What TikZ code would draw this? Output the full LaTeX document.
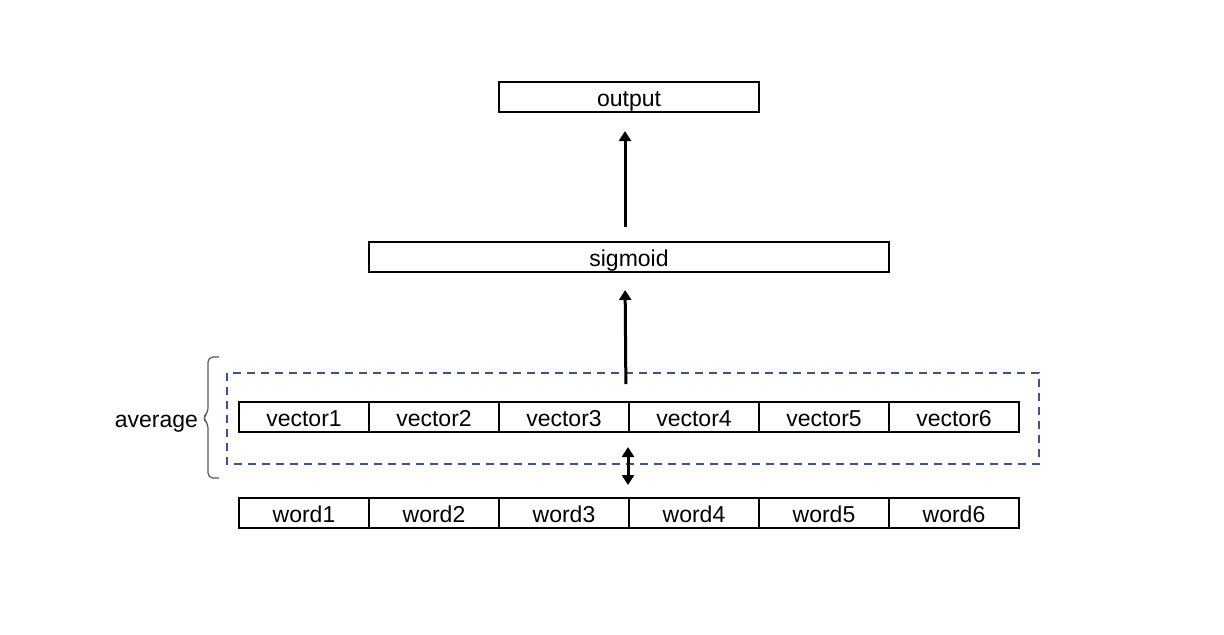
\documentclass[tikz,border=0pt]{standalone}
\usepackage{fontspec}
\setmainfont{Liberation Sans}
\usetikzlibrary{arrows.meta}
\definecolor{dashblue}{rgb}{0.24, 0.33, 0.55}
\definecolor{bracegray}{rgb}{0.35, 0.35, 0.35}

\begin{document}
\begin{tikzpicture}[x=0.5pt,y=-0.5pt,
    cell/.style={draw,line width=1pt,minimum width=65pt,minimum height=15pt,inner sep=0pt,text height=9pt,text depth=0pt,font=\fontsize{11.5}{13}\selectfont},
    flow/.style={line width=1.5pt,-{Triangle[width=6pt,length=5pt]}}]
  \useasboundingbox (0,0) rectangle (1224,634);
  \node[cell,minimum width=130pt] (out) at (629,97) {output};
  \node[cell,minimum width=260pt] (sig) at (629,257) {sigmoid};
  % embedding vectors
  \node[cell] (v1) at (304,417) {vector1};
  \node[cell] (v2) at (434,417) {vector2};
  \node[cell] (v3) at (564,417) {vector3};
  \node[cell] (v4) at (694,417) {vector4};
  \node[cell] (v5) at (824,417) {vector5};
  \node[cell] (v6) at (954,417) {vector6};
  % input words
  \node[cell] (w1) at (304,513) {word1};
  \node[cell] (w2) at (434,513) {word2};
  \node[cell] (w3) at (564,513) {word3};
  \node[cell] (w4) at (694,513) {word4};
  \node[cell] (w5) at (824,513) {word5};
  \node[cell] (w6) at (954,513) {word6};
  \draw[dashblue,line width=1pt,dash pattern=on 4pt off 3pt] (227,373) rectangle (1039,464);
  \draw[bracegray,line width=0.6pt,rounded corners=2.5pt] (219,357) -- (208,357) -- (208,413) -- (202,418) -- (208,423) -- (208,478) -- (219,478);
  \node[left,text height=9pt,text depth=0pt,font=\fontsize{11.5}{13}\selectfont] (avg) at (205,418) {average};
  \draw[flow,shorten <=8.5pt,shorten >=8.5pt] ([xshift=-2pt]v3.north east) -- ([xshift=-2pt]sig.south);
  \draw[flow,shorten <=7pt,shorten >=9pt] ([xshift=-2pt]sig.north) -- ([xshift=-2pt]out.south);
  \draw[flow,{Triangle[width=6pt,length=5pt]}-{Triangle[width=6pt,length=5pt]},shorten <=7pt,shorten >=6pt] ([xshift=-1pt]v3.south east) -- ([xshift=-1pt]w3.north east);
\end{tikzpicture}
\end{document}
